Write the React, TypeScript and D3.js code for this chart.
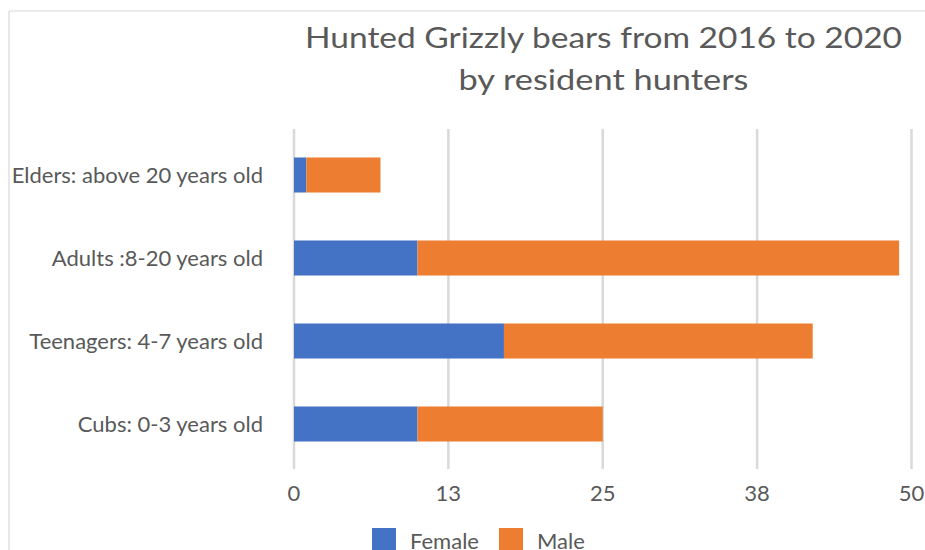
import React from "react";
import * as d3 from "d3";

const categories = [
  "Elders: above 20 years old",
  "Adults :8-20 years old",
  "Teenagers: 4-7 years old",
  "Cubs: 0-3 years old",
];
const female = [1, 10, 17, 10];
const male = [6, 39, 25, 15];
const seriesNames = ["Female", "Male"];
const seriesColors = ["#4472C4", "#ED7D31"];
const xTicks = [0, 12.5, 25, 37.5, 50];
const titleLines = ["Hunted Grizzly bears from 2016 to 2020", "by resident hunters"];

const W = 925;
const H = 550;
const FONT = "Lato, 'Open Sans', sans-serif";
const TXT = "#595959";
const GRID = "#d9d9d9";
const titleWidths = [597, 290];

export default function App() {
  const x = d3.scaleLinear().domain([0, 50]).range([294, 911.5]);
  const y = d3
    .scaleBand<string>()
    .domain(categories)
    .range([133.5, 465.5])
    .paddingInner(0.578)
    .paddingOuter(0.289);

  const rows = categories.map((c, i) => ({ c, f: female[i], m: male[i] }));
  const stack = d3.stack<any>().keys(["f", "m"])(rows as any);

  return (
    <svg
      width={W}
      height={H}
      style={{ position: "fixed", left: 0, top: 0, background: "#fff" }}
      fontFamily={FONT}
    >
      <rect x={0} y={0} width={W} height={H} fill="#fff" />
      {/* frame */}
      <line x1={9} y1={11} x2={W} y2={11} stroke={GRID} strokeWidth={1.2} />
      <line x1={9} y1={11} x2={9} y2={H} stroke={GRID} strokeWidth={1.2} />

      {/* title */}
      {titleLines.map((t, i) => (
        <text
          key={t}
          x={603.5}
          y={48.3 + i * 41.7}
          textAnchor="middle"
          fontSize={29.5}
          fill={TXT}
          textLength={titleWidths[i]}
          lengthAdjust="spacingAndGlyphs"
        >
          {t}
        </text>
      ))}

      {/* gridlines */}
      {xTicks.map((v) => (
        <line
          key={v}
          x1={x(v)}
          x2={x(v)}
          y1={129}
          y2={469}
          stroke={GRID}
          strokeWidth={2.5}
        />
      ))}

      {/* bars */}
      {stack.map((s, si) =>
        s.map((d: any, i: number) => (
          <rect
            key={si + "-" + i}
            x={x(d[0])}
            width={x(d[1]) - x(d[0])}
            y={y(categories[i])!}
            height={y.bandwidth()}
            fill={seriesColors[si]}
          />
        ))
      )}

      {/* category labels */}
      {categories.map((c) => (
        <text
          key={c}
          x={263}
          y={y(c)! + y.bandwidth() / 2 + 8}
          textAnchor="end"
          fontSize={22}
          fill={TXT}
        >
          {c}
        </text>
      ))}

      {/* x tick labels */}
      {xTicks.map((v) => (
        <text
          key={v}
          x={x(v)}
          y={501}
          textAnchor="middle"
          fontSize={22}
          fill={TXT}
        >
          {Math.round(v)}
        </text>
      ))}

      {/* legend */}
      {seriesNames.map((n, i) => {
        const lx = [372, 499][i];
        return (
          <g key={n}>
            <rect x={lx} y={528} width={24} height={22} fill={seriesColors[i]} />
            <text x={lx + 38} y={548.5} fontSize={22} fill={TXT}>
              {n}
            </text>
          </g>
        );
      })}
    </svg>
  );
}
